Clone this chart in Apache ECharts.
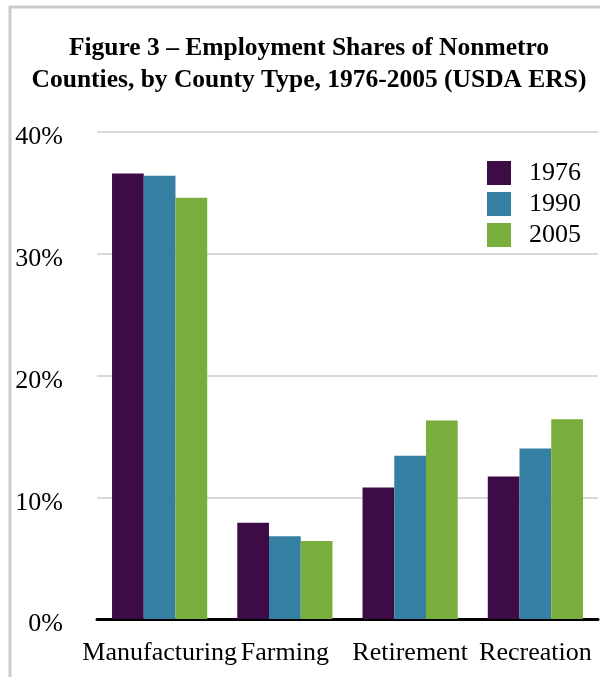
<!DOCTYPE html>
<html>
<head>
<meta charset="utf-8">
<script src="https://cdn.jsdelivr.net/npm/echarts@6/dist/echarts.min.js"></script>
<style>
  html, body { margin: 0; padding: 0; background: #fff; }
  #main { width: 600px; height: 677px; }
</style>
</head>
<body>
<div id="main"></div>
<script>
	var categories = ['Manufacturing', 'Farming', 'Retirement', 'Recreation'];
	var years = ['1976', '1990', '2005'];
	var colors = ['#3d0c47', '#357fa3', '#7aae3c'];

	// employment share, percent
	var share_1976 = [36.6, 7.9, 10.8, 11.7];
	var share_1990 = [36.4, 6.8, 13.4, 14.0];
	var share_2005 = [34.6, 6.4, 16.3, 16.4];

	var y_ticks = [0, 10, 20, 30, 40];

	var serif = '"Liberation Serif", "DejaVu Serif", serif';

	var myChart = echarts.init(document.getElementById('main'));

	var series_data = [share_1976, share_1990, share_2005];
	var series = [];
	for (var i = 0; i < years.length; i++) {
		series.push({
			name: years[i],
			type: 'bar',
			barGap: 0,
			barCategoryGap: '24%',
			itemStyle: { color: colors[i] },
			data: series_data[i]
		});
	}

	var option = {
		animation: false,
		backgroundColor: '#fff',
		// frame round the figure
		graphic: [{
			type: 'rect',
			shape: { x: 10, y: 7, width: 700, height: 700 },
			style: { fill: 'none', stroke: '#cccccc', lineWidth: 3 },
			silent: true
		}],
		title: {
			text: 'Figure 3 \u2013 Employment Shares of Nonmetro\nCounties, by County Type, 1976-2005 (USDA ERS)',
			left: 304,
			top: 27,
			textAlign: 'center',
			textStyle: {
				fontFamily: serif,
				fontWeight: 'bold',
				fontSize: 25.5,
				lineHeight: 32,
				color: '#000'
			}
		},
		legend: {
			orient: 'vertical',
			left: 487,
			top: 160,
			padding: 0,
			itemWidth: 24,
			itemHeight: 24,
			itemGap: 5,
			icon: 'rect',
			data: years,
			textStyle: {
				fontFamily: serif,
				fontSize: 26,
				color: '#000',
				padding: [2, 0, 0, 13]
			}
		},
		grid: {
			left: 97,
			right: 2,
			top: 132,
			bottom: 58
		},
		xAxis: {
			type: 'category',
			data: categories,
			axisLine: { lineStyle: { color: '#000', width: 3 } },
			axisTick: { show: false },
			axisLabel: {
				fontFamily: serif,
				fontSize: 26,
				color: '#000',
				margin: 21,
				interval: 0
			}
		},
		yAxis: {
			type: 'value',
			min: y_ticks[0],
			max: y_ticks[y_ticks.length - 1],
			interval: 10,
			axisLine: { show: false },
			axisTick: { show: false },
			splitLine: { lineStyle: { color: '#d9d9d9', width: 2 } },
			axisLabel: {
				fontFamily: serif,
				fontSize: 26,
				color: '#000',
				margin: 34,
				verticalAlign: 'top',
				lineHeight: 11,
				formatter: '{value}%'
			}
		},
		series: series
	};

	myChart.setOption(option);
</script>
</body>
</html>
